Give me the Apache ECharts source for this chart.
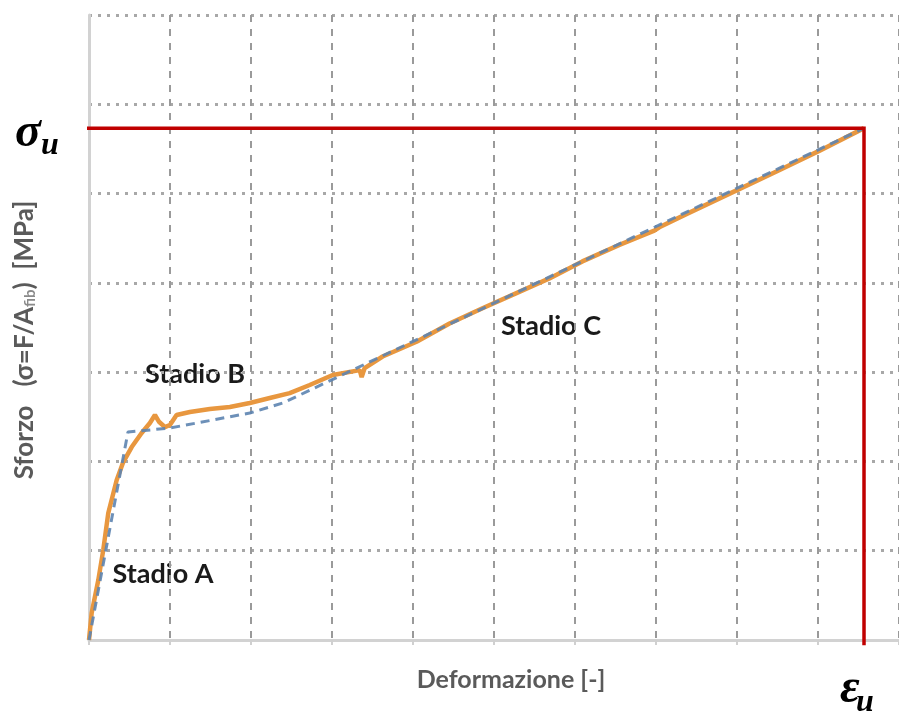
<!DOCTYPE html>
<html>
<head>
<meta charset="utf-8">
<script src="https://cdn.jsdelivr.net/npm/echarts@6/dist/echarts.min.js"></script>
<style>
  html, body { margin: 0; padding: 0; background: #ffffff; }
  #chart { width: 899px; height: 715px; }
</style>
</head>
<body>
<div id="chart"></div>
<script>
// Experimental tensile curve (grid units along each axis)
const expStrain = [0, 0.033, 0.115, 0.176, 0.238, 0.342, 0.423, 0.527, 0.650, 0.752, 0.814, 0.867, 0.937, 0.999,
  1.081, 1.245, 1.492, 1.739, 1.985, 2.232, 2.478, 2.725, 3.009, 3.342, 3.366, 3.403, 3.625, 4.044, 4.451,
  4.858, 5.277, 5.684, 6.091, 6.548, 6.979, 7.041, 7.374, 8.027, 8.520, 9.014, 9.568];
const expStress = [0, 0.302, 0.672, 1.008, 1.422, 1.792, 1.993, 2.161, 2.318, 2.430, 2.520, 2.441, 2.385, 2.408,
  2.520, 2.553, 2.587, 2.609, 2.654, 2.710, 2.765, 2.856, 2.968, 3.023, 2.945, 3.046, 3.175, 3.340, 3.545,
  3.715, 3.885, 4.050, 4.240, 4.425, 4.585, 4.622, 4.770, 5.050, 5.262, 5.478, 5.733];

// Trilinear model (Stadio A, B, C)
const modelStrain = [0, 0.481, 0.999, 1.985, 2.392, 9.568];
const modelStress = [0, 2.329, 2.374, 2.542, 2.654, 5.733];

// Ultimate point
const ultimateStrain = 9.568;
const ultimateStress = 5.733;

// Grid divisions
const xDivisions = [0, 10, 1];
const yDivisions = [0, 7, 1];

const stageLabels = ['Stadio A', 'Stadio B', 'Stadio C'];
const xTitle = 'Deformazione [-]';

const zip = (xs, ys) => xs.map((x, i) => [x, ys[i]]);

const chart = echarts.init(document.getElementById('chart'), null, { renderer: 'canvas' });

const labelFont = 'Lato, "Open Sans", sans-serif';

chart.setOption({
  animation: false,
  backgroundColor: '#ffffff',
  grid: { left: 89, top: 15, width: 811, height: 625, containLabel: false },
  xAxis: {
    type: 'value',
    min: xDivisions[0], max: xDivisions[1], interval: xDivisions[2],
    axisLine: { show: true, onZero: false, lineStyle: { color: '#d2d2d2', width: 3 } },
    axisTick: { show: true, length: 5, lineStyle: { color: '#d0d0d0', width: 2 } },
    axisLabel: { show: false },
    splitLine: { show: true, lineStyle: { color: '#9a9a9a', width: 2, type: [7, 7] } }
  },
  yAxis: {
    type: 'value',
    min: yDivisions[0], max: yDivisions[1], interval: yDivisions[2],
    axisLine: { show: true, onZero: false, lineStyle: { color: '#d2d2d2', width: 3 } },
    axisTick: { show: false },
    axisLabel: { show: false },
    splitLine: { show: true, lineStyle: { color: '#a8a8a8', width: 3, type: [3, 6] } }
  },
  series: [
    {
      type: 'line',
      name: 'sperimentale',
      data: zip(expStrain, expStress),
      showSymbol: false,
      smooth: false,
      lineStyle: { color: '#e8973f', width: 4.5 },
      z: 3
    },
    {
      type: 'line',
      name: 'modello',
      data: zip(modelStrain, modelStress),
      showSymbol: false,
      lineStyle: { color: '#5d84b0', width: 3, type: [9, 6], opacity: 0.9 },
      z: 4
    },
    {
      type: 'line',
      name: 'limite',
      data: [[xDivisions[0] - 0.07, ultimateStress], [ultimateStrain, ultimateStress], [ultimateStrain, yDivisions[0] - 0.06]],
      showSymbol: false,
      clip: false,
      lineStyle: { color: '#c00000', width: 3.5, join: 'miter' },
      z: 5
    }
  ],
  graphic: [
    // stage labels
    { type: 'text', x: 163, y: 574, style: { text: stageLabels[0], font: 'bold 27px ' + labelFont, fill: '#1a1a1a', align: 'center', verticalAlign: 'middle' } },
    { type: 'text', x: 195, y: 374, style: { text: stageLabels[1], font: 'bold 27px ' + labelFont, fill: '#1a1a1a', align: 'center', verticalAlign: 'middle' } },
    { type: 'text', x: 551, y: 326, style: { text: stageLabels[2], font: 'bold 27px ' + labelFont, fill: '#1a1a1a', align: 'center', verticalAlign: 'middle' } },
    // axis titles
    { type: 'text', x: 511, y: 680, style: { text: xTitle, font: 'bold 25px ' + labelFont, fill: '#5a5a5a', align: 'center', verticalAlign: 'middle' } },
    {
      type: 'text', x: 25, y: 340, rotation: Math.PI / 2,
      style: {
        text: '{n|Sforzo   (σ=F/A}{s|fib}{n|)  [MPa]}',
        align: 'center', verticalAlign: 'middle',
        rich: {
          n: { font: 'bold 26px ' + labelFont, fill: '#5a5a5a' },
          s: { font: 'bold 15px ' + labelFont, fill: '#8a8a8a', padding: [11, 0, 0, 0] }
        }
      }
    },
    // sigma_u
    { type: 'text', x: 15, y: 134, style: { text: 'σ', font: 'italic bold 48px "Liberation Serif", serif', fill: '#000000', align: 'left', verticalAlign: 'middle' } },
    { type: 'text', x: 41, y: 146, style: { text: 'u', font: 'italic bold 32px "Liberation Serif", serif', fill: '#000000', align: 'left', verticalAlign: 'middle' } },
    // epsilon_u
    { type: 'text', x: 840, y: 690, style: { text: 'ε', font: 'italic bold 48px "Liberation Serif", serif', fill: '#000000', align: 'left', verticalAlign: 'middle' } },
    { type: 'text', x: 856, y: 703, style: { text: 'u', font: 'italic bold 32px "Liberation Serif", serif', fill: '#000000', align: 'left', verticalAlign: 'middle' } }
  ]
});
</script>
</body>
</html>
